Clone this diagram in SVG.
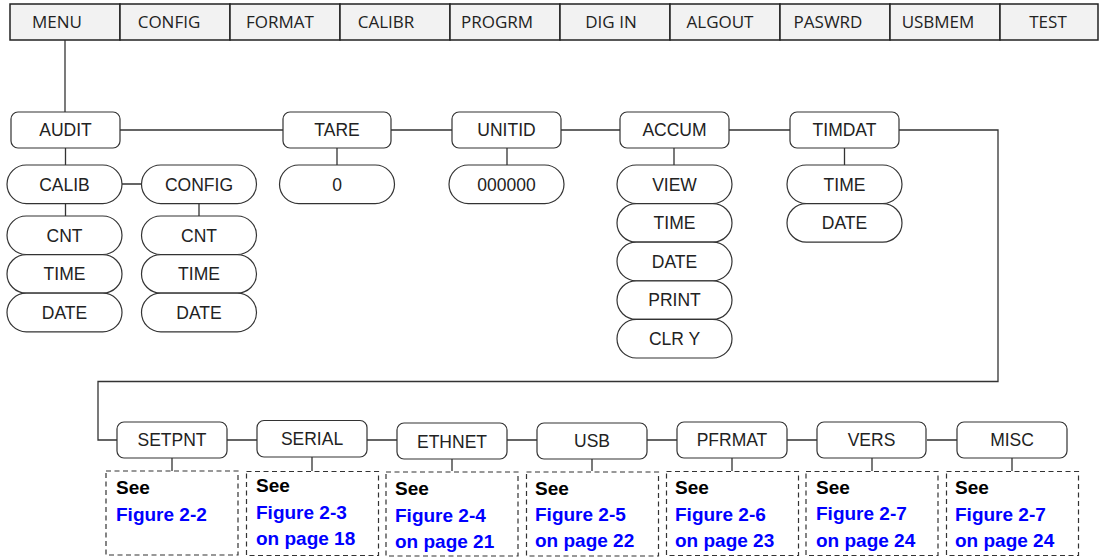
<svg xmlns="http://www.w3.org/2000/svg" width="1100" height="557" viewBox="0 0 1100 557">
<style>
.bar{fill:#f2f2f2;stroke:#222;stroke-width:1.5}
.mt{font-family:"Open Sans","Liberation Sans",sans-serif;font-size:17px;fill:#222;text-anchor:middle}
.box{fill:#fff;stroke:#333;stroke-width:1.2}
.lb{font-family:"Liberation Sans",Arial,sans-serif;font-size:17.5px;fill:#222;text-anchor:middle}
.ln{fill:none;stroke:#333;stroke-width:1.3}
.dash{fill:none;stroke:#333;stroke-width:1.2;stroke-dasharray:5 3.5}
.see{font-family:"Liberation Sans",Arial,sans-serif;font-size:19px;font-weight:bold;fill:#000}
.fig{font-family:"Liberation Sans",Arial,sans-serif;font-size:19px;font-weight:bold;fill:#0000ff}
</style>
<g id="menubar">
<rect class="bar" x="10" y="4" width="110" height="36"/><text class="mt" x="57" y="28">MENU</text>
<rect class="bar" x="120" y="4" width="110" height="36"/><text class="mt" x="169" y="28">CONFIG</text>
<rect class="bar" x="230" y="4" width="110" height="36"/><text class="mt" x="280" y="28">FORMAT</text>
<rect class="bar" x="340" y="4" width="110" height="36"/><text class="mt" x="386" y="28">CALIBR</text>
<rect class="bar" x="450" y="4" width="110" height="36"/><text class="mt" x="497" y="28">PROGRM</text>
<rect class="bar" x="560" y="4" width="110" height="36"/><text class="mt" x="611" y="28">DIG IN</text>
<rect class="bar" x="670" y="4" width="110" height="36"/><text class="mt" x="720" y="28">ALGOUT</text>
<rect class="bar" x="780" y="4" width="110" height="36"/><text class="mt" x="828" y="28">PASWRD</text>
<rect class="bar" x="890" y="4" width="110" height="36"/><text class="mt" x="938" y="28">USBMEM</text>
<rect class="bar" x="1000" y="4" width="98" height="36"/><text class="mt" x="1048" y="28">TEST</text>
</g>
<g id="connectors">
<path class="ln" d="M65 40V112"/>
<path class="ln" d="M120 130H283M391 130H452M561 130H620M729 130H790"/>
<path class="ln" d="M899 130H998V381.5H98V440H117"/>
<path class="ln" d="M65.5 148V165M122 184H141.5M65.5 203.6V216M199 203.6V216"/>
<path class="ln" d="M337 148V165M507 148V165M674 148V165M844.5 148V165"/>
<path class="ln" d="M227 440H257M367 440H397M507 440H537M647 440H677M787 440H817M927 440H957"/>
<path class="ln" d="M172 458V471M312 457V471M452 459V471M592 459V471M732 458V471M872 458V471M1012 458V471"/>
</g>
<g id="audit"><rect class="box" x="11" y="112" width="109" height="36" rx="7"/><text class="lb" x="65.5" y="136.3">AUDIT</text></g>
<g id="tare"><rect class="box" x="283" y="112" width="108" height="36" rx="7"/><text class="lb" x="337" y="136.3">TARE</text></g>
<g id="unitid"><rect class="box" x="452" y="112" width="109" height="36" rx="7"/><text class="lb" x="506.5" y="136.3">UNITID</text></g>
<g id="accum"><rect class="box" x="620" y="112" width="109" height="36" rx="7"/><text class="lb" x="674.5" y="136.3">ACCUM</text></g>
<g id="timdat"><rect class="box" x="790" y="112" width="109" height="36" rx="7"/><text class="lb" x="844.5" y="136.3">TIMDAT</text></g>
<g id="calib"><rect class="box" x="7" y="165" width="115" height="38.6" rx="19.3"/><text class="lb" x="64.5" y="190.6">CALIB</text></g>
<g id="config"><rect class="box" x="141.5" y="165" width="115" height="38.6" rx="19.3"/><text class="lb" x="199" y="190.6">CONFIG</text></g>
<g id="calib-cnt"><rect class="box" x="7" y="216" width="115" height="38.6" rx="19.3"/><text class="lb" x="64.5" y="241.6">CNT</text></g>
<g id="calib-time"><rect class="box" x="7" y="254.6" width="115" height="38.6" rx="19.3"/><text class="lb" x="64.5" y="280.2">TIME</text></g>
<g id="calib-date"><rect class="box" x="7" y="293.2" width="115" height="38.6" rx="19.3"/><text class="lb" x="64.5" y="318.8">DATE</text></g>
<g id="config-cnt"><rect class="box" x="141.5" y="216" width="115" height="38.6" rx="19.3"/><text class="lb" x="199" y="241.6">CNT</text></g>
<g id="config-time"><rect class="box" x="141.5" y="254.6" width="115" height="38.6" rx="19.3"/><text class="lb" x="199" y="280.2">TIME</text></g>
<g id="config-date"><rect class="box" x="141.5" y="293.2" width="115" height="38.6" rx="19.3"/><text class="lb" x="199" y="318.8">DATE</text></g>
<g id="tare-0"><rect class="box" x="279.5" y="165" width="115" height="38.6" rx="19.3"/><text class="lb" x="337" y="190.6">0</text></g>
<g id="unitid-0"><rect class="box" x="449" y="165" width="115" height="38.6" rx="19.3"/><text class="lb" x="506.5" y="190.6">000000</text></g>
<g id="accum-view"><rect class="box" x="617" y="165" width="115" height="38.6" rx="19.3"/><text class="lb" x="674.5" y="190.6">VIEW</text></g>
<g id="accum-time"><rect class="box" x="617" y="203.6" width="115" height="38.6" rx="19.3"/><text class="lb" x="674.5" y="229.2">TIME</text></g>
<g id="accum-date"><rect class="box" x="617" y="242.2" width="115" height="38.6" rx="19.3"/><text class="lb" x="674.5" y="267.8">DATE</text></g>
<g id="accum-print"><rect class="box" x="617" y="280.8" width="115" height="38.6" rx="19.3"/><text class="lb" x="674.5" y="306.4">PRINT</text></g>
<g id="accum-clry"><rect class="box" x="617" y="319.4" width="115" height="38.6" rx="19.3"/><text class="lb" x="674.5" y="345">CLR Y</text></g>
<g id="timdat-time"><rect class="box" x="787" y="165" width="115" height="38.6" rx="19.3"/><text class="lb" x="844.5" y="190.6">TIME</text></g>
<g id="timdat-date"><rect class="box" x="787" y="203.6" width="115" height="38.6" rx="19.3"/><text class="lb" x="844.5" y="229.2">DATE</text></g>
<g id="setpnt"><rect class="box" x="117" y="422" width="110" height="36" rx="7"/><text class="lb" x="172" y="446">SETPNT</text></g>
<g id="serial"><rect class="box" x="257" y="420.5" width="110" height="36.5" rx="7"/><text class="lb" x="312" y="444.5">SERIAL</text></g>
<g id="ethnet"><rect class="box" x="397" y="423" width="110" height="36" rx="7"/><text class="lb" x="452" y="447.5">ETHNET</text></g>
<g id="usb"><rect class="box" x="537" y="423" width="110" height="36" rx="7"/><text class="lb" x="592" y="447">USB</text></g>
<g id="pfrmat"><rect class="box" x="677" y="422" width="110" height="36" rx="7"/><text class="lb" x="732" y="446">PFRMAT</text></g>
<g id="vers"><rect class="box" x="817" y="422" width="109" height="36" rx="7"/><text class="lb" x="871.5" y="446">VERS</text></g>
<g id="misc"><rect class="box" x="957" y="422" width="110" height="36" rx="7"/><text class="lb" x="1012" y="446">MISC</text></g>
<g id="ref-setpnt"><rect class="dash" x="106" y="471" width="132" height="84"/><text class="see" x="116" y="494">See</text><text class="fig" x="116" y="520.5">Figure 2-2</text></g>
<g id="ref-serial"><rect class="dash" x="246.5" y="471.5" width="132" height="84"/><text class="see" x="256" y="492">See</text><text class="fig" x="256" y="519">Figure 2-3</text><text class="fig" x="256" y="544.5">on page 18</text></g>
<g id="ref-ethnet"><rect class="dash" x="386" y="472" width="132" height="84"/><text class="see" x="395" y="494.5">See</text><text class="fig" x="395" y="522">Figure 2-4</text><text class="fig" x="395" y="547.5">on page 21</text></g>
<g id="ref-usb"><rect class="dash" x="526.5" y="472" width="132" height="84"/><text class="see" x="535" y="494.5">See</text><text class="fig" x="535" y="521">Figure 2-5</text><text class="fig" x="535" y="546.5">on page 22</text></g>
<g id="ref-pfrmat"><rect class="dash" x="666.5" y="471.5" width="132" height="84"/><text class="see" x="675" y="494">See</text><text class="fig" x="675" y="520.5">Figure 2-6</text><text class="fig" x="675" y="546.5">on page 23</text></g>
<g id="ref-vers"><rect class="dash" x="806" y="471.5" width="132" height="84"/><text class="see" x="816" y="493.5">See</text><text class="fig" x="816" y="519.5">Figure 2-7</text><text class="fig" x="816" y="546.5">on page 24</text></g>
<g id="ref-misc"><rect class="dash" x="946.5" y="471.5" width="132" height="84"/><text class="see" x="955" y="494">See</text><text class="fig" x="955" y="520.5">Figure 2-7</text><text class="fig" x="955" y="546.5">on page 24</text></g>
</svg>
